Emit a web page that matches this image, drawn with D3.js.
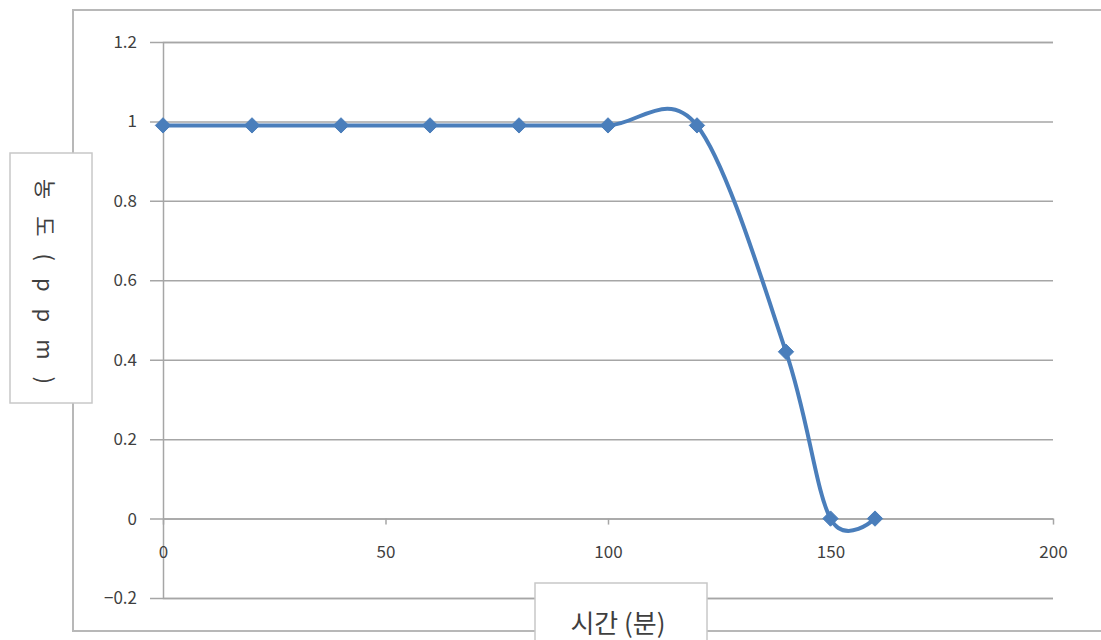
<!DOCTYPE html>
<html>
<head>
<meta charset="utf-8">
<script src="https://cdn.jsdelivr.net/npm/d3@7"></script>
<style>
  html, body { margin: 0; padding: 0; background: #fff; }
  svg { display: block; }
  text { font-family: "Noto Sans CJK KR", "Noto Sans", sans-serif; }
</style>
</head>
<body>
<svg id="chart" width="1101" height="640"></svg>
<script>
// Elapsed time (minutes) and measured concentration (ppm)
const timeMin = [0, 20, 40, 60, 80, 100, 120, 140, 150, 160];
const concPpm = [0.99, 0.99, 0.99, 0.99, 0.99, 0.99, 0.99, 0.42, 0, 0];

const xTicks = [0, 50, 100, 150, 200];
const yTicks = [-0.2, 0, 0.2, 0.4, 0.6, 0.8, 1, 1.2];

const xTitle = "시간 (분)";
const yTitle = "농도(ppm)";

const svg = d3.select("#chart");
const gridColor = "#a6a6a6";
const lineColor = "#4a7ebb";
const labelColor = "#3f3f3f";

const x = d3.scaleLinear().domain([0, 200]).range([163, 1053]);
const y = d3.scaleLinear().domain([-0.2, 1.2]).range([598, 42]);

// chart frame
svg.append("rect")
  .attr("x", 73).attr("y", 10)
  .attr("width", 1101).attr("height", 621)
  .attr("fill", "#fff").attr("stroke", "#b8b8b8").attr("stroke-width", 2);

// horizontal gridlines with ticks and labels (left axis)
const yAxis = d3.axisLeft(y)
  .tickValues(yTicks)
  .tickSize(-(x.range()[1] - x.range()[0]))
  .tickPadding(26)
  .tickFormat(d => d3.format("")(Math.round(d * 10) / 10));

const gy = svg.append("g").attr("transform", `translate(${x(0)},0)`).call(yAxis);
gy.select(".domain").attr("stroke", gridColor).attr("stroke-width", 1.5);
gy.selectAll(".tick line").attr("stroke", gridColor).attr("stroke-width", 1.5)
  .attr("x1", -13);
gy.selectAll(".tick text")
  .style("fill", labelColor).style("font-size", "17px");

// horizontal axis crossing at zero
const xAxis = d3.axisBottom(x)
  .tickValues(xTicks)
  .tickSize(6)
  .tickPadding(21)
  .tickSizeOuter(0);
const gx = svg.append("g").attr("transform", `translate(0,${y(0)})`).call(xAxis);
gx.select(".domain").attr("stroke", gridColor).attr("stroke-width", 1.5);
gx.selectAll(".tick line").attr("stroke", gridColor).attr("stroke-width", 1.5);
gx.selectAll(".tick text")
  .style("fill", labelColor).style("font-size", "17px");

// smoothed data line
const pts = timeMin.map((t, i) => [t, concPpm[i]]);
const line = d3.line()
  .x(d => x(d[0]))
  .y(d => y(d[1]))
  .curve(d3.curveCardinal.tension(0));

svg.append("path")
  .datum(pts)
  .attr("d", line)
  .attr("fill", "none")
  .attr("stroke", lineColor)
  .attr("stroke-width", 4)
  .attr("stroke-linejoin", "round");

// diamond markers
const diamond = d3.symbol().type(d3.symbolDiamond2).size(150);
svg.append("g").selectAll("path")
  .data(pts)
  .join("path")
  .attr("transform", d => `translate(${x(d[0])},${y(d[1])})`)
  .attr("d", diamond)
  .attr("fill", lineColor)
  .attr("stroke", lineColor)
  .attr("stroke-width", 1);

// vertical axis title box
svg.append("rect")
  .attr("x", 10).attr("y", 153).attr("width", 82).attr("height", 250)
  .attr("fill", "#fff").attr("stroke", "#c8c8c8").attr("stroke-width", 1.5);
svg.append("text")
  .attr("transform", "translate(47,290) rotate(90)")
  .attr("text-anchor", "middle")
  .attr("dominant-baseline", "central")
  .style("font-size", "22px")
  .attr("letter-spacing", 17)
  .style("fill", labelColor)
  .text(yTitle);

// horizontal axis title box
svg.append("rect")
  .attr("x", 535).attr("y", 583).attr("width", 172).attr("height", 70)
  .attr("fill", "#fff").attr("stroke", "#c8c8c8").attr("stroke-width", 1.5);
svg.append("text")
  .attr("x", 618).attr("y", 633)
  .attr("text-anchor", "middle")
  .style("font-size", "26px")
  .style("fill", labelColor)
  .text(xTitle);
</script>
</body>
</html>
